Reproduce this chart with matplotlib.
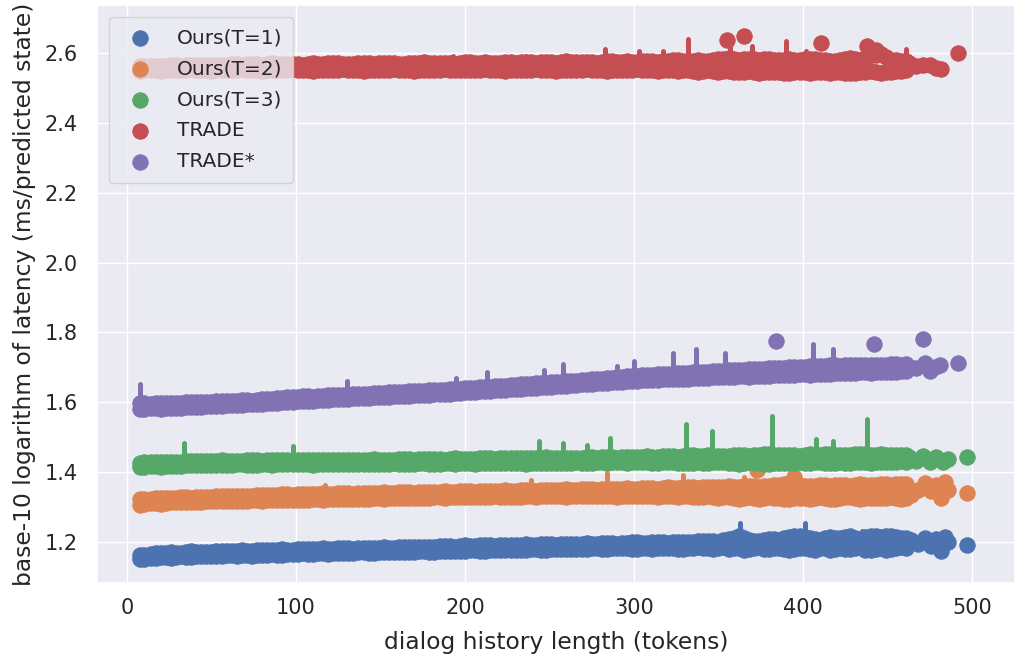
import matplotlib
matplotlib.use("Agg")
import matplotlib.pyplot as plt
import seaborn as sns
import numpy as np

# ---------------- data ----------------
# samples of each band: lower / upper edge values at tokens_a and tokens_b
tokens_a = [8, 14, 20, 26, 32, 38, 44, 50, 56, 62,
            68, 74, 80, 86, 92, 98, 104, 110, 116, 122,
            128, 134, 140, 146, 152, 158, 164, 170, 176, 182,
            188, 194, 200, 206, 212, 218, 224, 230, 236, 242,
            248, 254, 260, 266, 272, 278, 284, 290, 296, 302,
            308, 314, 320, 326, 332, 338, 344, 350, 356, 362,
            368, 374, 380, 386, 392, 398, 404, 410, 416, 422,
            428, 434, 440, 446, 452, 458]
tokens_b = [10, 17, 23, 29, 35, 41, 47, 53, 59, 65,
            71, 77, 83, 89, 95, 101, 107, 113, 119, 125,
            131, 137, 143, 149, 155, 161, 167, 173, 179, 185,
            191, 197, 203, 209, 215, 221, 227, 233, 239, 245,
            251, 257, 263, 269, 275, 281, 287, 293, 299, 305,
            311, 317, 323, 329, 335, 341, 347, 353, 359, 365,
            371, 377, 383, 389, 395, 401, 407, 413, 419, 425,
            431, 437, 443, 449, 455, 461]

# ---- Ours(T=1)
t1_lo_a = [1.150, 1.155, 1.157, 1.155, 1.159, 1.158, 1.160, 1.161, 1.159, 1.162,
           1.163, 1.161, 1.164, 1.165, 1.163, 1.166, 1.167, 1.165, 1.168, 1.167,
           1.169, 1.168, 1.170, 1.169, 1.171, 1.170, 1.172, 1.171, 1.173, 1.172,
           1.174, 1.175, 1.174, 1.176, 1.175, 1.177, 1.176, 1.178, 1.177, 1.179,
           1.178, 1.180, 1.179, 1.181, 1.180, 1.182, 1.181, 1.183, 1.182, 1.181,
           1.183, 1.182, 1.184, 1.181, 1.183, 1.185, 1.182, 1.184, 1.180, 1.183,
           1.179, 1.185, 1.181, 1.183, 1.178, 1.182, 1.180, 1.184, 1.177, 1.183,
           1.179, 1.185, 1.176, 1.183, 1.180, 1.185]
t1_hi_a = [1.163, 1.165, 1.168, 1.170, 1.168, 1.173, 1.170, 1.172, 1.175, 1.173,
           1.176, 1.175, 1.178, 1.176, 1.179, 1.178, 1.181, 1.179, 1.182, 1.180,
           1.183, 1.181, 1.184, 1.182, 1.185, 1.183, 1.186, 1.185, 1.187, 1.186,
           1.189, 1.187, 1.190, 1.188, 1.191, 1.189, 1.192, 1.190, 1.193, 1.191,
           1.194, 1.192, 1.195, 1.193, 1.196, 1.194, 1.197, 1.195, 1.198, 1.199,
           1.197, 1.200, 1.198, 1.201, 1.199, 1.202, 1.204, 1.201, 1.208, 1.218,
           1.205, 1.203, 1.209, 1.206, 1.213, 1.218, 1.210, 1.207, 1.213, 1.211,
           1.216, 1.209, 1.218, 1.215, 1.217, 1.210]
t1_lo_b = [1.152, 1.154, 1.156, 1.158, 1.157, 1.159, 1.161, 1.160, 1.162, 1.161,
           1.162, 1.164, 1.163, 1.164, 1.166, 1.165, 1.166, 1.168, 1.166, 1.169,
           1.168, 1.170, 1.169, 1.171, 1.170, 1.172, 1.171, 1.173, 1.172, 1.174,
           1.173, 1.175, 1.176, 1.175, 1.177, 1.176, 1.178, 1.177, 1.179, 1.178,
           1.180, 1.179, 1.181, 1.180, 1.182, 1.181, 1.183, 1.182, 1.180, 1.183,
           1.181, 1.184, 1.182, 1.180, 1.184, 1.183, 1.181, 1.185, 1.182, 1.178,
           1.183, 1.180, 1.184, 1.179, 1.181, 1.183, 1.178, 1.182, 1.180, 1.179,
           1.184, 1.177, 1.181, 1.178, 1.184, 1.182]
t1_hi_b = [1.164, 1.167, 1.169, 1.169, 1.171, 1.171, 1.172, 1.174, 1.174, 1.175,
           1.175, 1.177, 1.177, 1.178, 1.178, 1.180, 1.180, 1.181, 1.181, 1.182,
           1.182, 1.183, 1.183, 1.184, 1.184, 1.185, 1.185, 1.186, 1.187, 1.188,
           1.188, 1.189, 1.189, 1.190, 1.190, 1.191, 1.191, 1.192, 1.192, 1.193,
           1.193, 1.194, 1.194, 1.195, 1.195, 1.196, 1.196, 1.197, 1.199, 1.198,
           1.199, 1.199, 1.200, 1.200, 1.201, 1.203, 1.202, 1.205, 1.212, 1.210,
           1.204, 1.206, 1.208, 1.210, 1.216, 1.214, 1.208, 1.210, 1.212, 1.214,
           1.212, 1.214, 1.216, 1.216, 1.213, 1.212]
t1_tail_x = [464, 468, 472, 476, 479, 482, 484, 486, 497]
t1_tail_y = [1.205, 1.195, 1.212, 1.188, 1.208, 1.175, 1.215, 1.200, 1.190]
t1_spk_x = [363, 401, 330, 399, 416, 435]
t1_spk_base = [1.200, 1.200, 1.195, 1.200, 1.200, 1.205]
t1_spk_top = [1.255, 1.253, 1.215, 1.225, 1.228, 1.230]

# ---- Ours(T=2)
t2_lo_a = [1.307, 1.312, 1.310, 1.314, 1.313, 1.315, 1.314, 1.317, 1.316, 1.318,
           1.317, 1.319, 1.318, 1.320, 1.319, 1.321, 1.320, 1.322, 1.321, 1.323,
           1.322, 1.324, 1.323, 1.325, 1.324, 1.326, 1.325, 1.327, 1.326, 1.328,
           1.327, 1.329, 1.328, 1.330, 1.329, 1.331, 1.330, 1.329, 1.331, 1.330,
           1.332, 1.331, 1.330, 1.332, 1.331, 1.333, 1.332, 1.330, 1.333, 1.331,
           1.332, 1.330, 1.333, 1.329, 1.332, 1.328, 1.331, 1.327, 1.330, 1.324,
           1.329, 1.323, 1.328, 1.325, 1.322, 1.327, 1.324, 1.328, 1.322, 1.326,
           1.329, 1.323, 1.327, 1.325, 1.330, 1.324]
t2_hi_a = [1.322, 1.324, 1.326, 1.325, 1.328, 1.327, 1.330, 1.329, 1.332, 1.331,
           1.333, 1.332, 1.335, 1.334, 1.336, 1.335, 1.338, 1.336, 1.339, 1.337,
           1.340, 1.338, 1.341, 1.339, 1.342, 1.340, 1.343, 1.341, 1.344, 1.342,
           1.345, 1.343, 1.346, 1.344, 1.347, 1.345, 1.348, 1.346, 1.349, 1.347,
           1.350, 1.348, 1.351, 1.349, 1.352, 1.350, 1.353, 1.351, 1.354, 1.352,
           1.355, 1.353, 1.356, 1.354, 1.357, 1.355, 1.358, 1.356, 1.359, 1.357,
           1.360, 1.358, 1.361, 1.364, 1.370, 1.362, 1.359, 1.363, 1.360, 1.364,
           1.361, 1.365, 1.362, 1.366, 1.363, 1.367]
t2_lo_b = [1.310, 1.311, 1.312, 1.313, 1.315, 1.314, 1.316, 1.317, 1.317, 1.318,
           1.318, 1.319, 1.319, 1.320, 1.320, 1.321, 1.321, 1.322, 1.322, 1.323,
           1.323, 1.324, 1.324, 1.325, 1.325, 1.326, 1.326, 1.327, 1.327, 1.328,
           1.328, 1.329, 1.329, 1.330, 1.330, 1.330, 1.330, 1.330, 1.331, 1.331,
           1.331, 1.331, 1.331, 1.332, 1.332, 1.332, 1.331, 1.332, 1.332, 1.332,
           1.331, 1.332, 1.331, 1.331, 1.330, 1.330, 1.329, 1.329, 1.327, 1.327,
           1.326, 1.326, 1.327, 1.324, 1.325, 1.326, 1.326, 1.325, 1.324, 1.328,
           1.326, 1.325, 1.326, 1.327, 1.327, 1.326]
t2_hi_b = [1.323, 1.325, 1.326, 1.327, 1.328, 1.329, 1.330, 1.331, 1.332, 1.332,
           1.333, 1.334, 1.335, 1.335, 1.336, 1.337, 1.337, 1.338, 1.338, 1.339,
           1.339, 1.340, 1.340, 1.341, 1.341, 1.342, 1.342, 1.343, 1.343, 1.344,
           1.344, 1.345, 1.345, 1.346, 1.346, 1.347, 1.347, 1.348, 1.348, 1.349,
           1.349, 1.350, 1.350, 1.351, 1.351, 1.352, 1.352, 1.353, 1.353, 1.354,
           1.354, 1.355, 1.355, 1.356, 1.356, 1.357, 1.357, 1.358, 1.358, 1.359,
           1.359, 1.360, 1.363, 1.367, 1.366, 1.361, 1.361, 1.362, 1.362, 1.363,
           1.363, 1.364, 1.364, 1.365, 1.365, 1.366]
t2_tail_x = [464, 468, 472, 476, 479, 482, 484, 486, 497, 373, 395]
t2_tail_y = [1.335, 1.350, 1.368, 1.345, 1.362, 1.325, 1.372, 1.350, 1.339, 1.405, 1.385]
t2_spk_x = [117, 239, 284, 329, 365]
t2_spk_base = [1.330, 1.340, 1.345, 1.345, 1.350]
t2_spk_top = [1.362, 1.377, 1.397, 1.391, 1.385]

# ---- Ours(T=3)
t3_lo_a = [1.415, 1.417, 1.416, 1.418, 1.417, 1.420, 1.419, 1.421, 1.420, 1.421,
           1.422, 1.420, 1.422, 1.421, 1.423, 1.422, 1.423, 1.421, 1.423, 1.422,
           1.424, 1.423, 1.422, 1.424, 1.423, 1.425, 1.423, 1.424, 1.425, 1.423,
           1.425, 1.424, 1.426, 1.424, 1.425, 1.427, 1.425, 1.426, 1.424, 1.427,
           1.425, 1.427, 1.426, 1.428, 1.426, 1.428, 1.427, 1.429, 1.427, 1.429,
           1.428, 1.426, 1.429, 1.427, 1.425, 1.428, 1.426, 1.429, 1.427, 1.424,
           1.428, 1.426, 1.422, 1.427, 1.425, 1.428, 1.426, 1.429, 1.425, 1.428,
           1.426, 1.429, 1.427, 1.430, 1.428, 1.431]
t3_hi_a = [1.427, 1.428, 1.429, 1.428, 1.430, 1.433, 1.431, 1.432, 1.434, 1.432,
           1.433, 1.434, 1.433, 1.435, 1.434, 1.436, 1.434, 1.435, 1.434, 1.436,
           1.435, 1.436, 1.435, 1.437, 1.435, 1.436, 1.438, 1.436, 1.437, 1.438,
           1.436, 1.439, 1.437, 1.438, 1.440, 1.438, 1.439, 1.441, 1.439, 1.440,
           1.442, 1.440, 1.441, 1.440, 1.442, 1.441, 1.443, 1.441, 1.444, 1.442,
           1.445, 1.443, 1.446, 1.444, 1.449, 1.446, 1.448, 1.445, 1.447, 1.449,
           1.446, 1.450, 1.452, 1.448, 1.450, 1.447, 1.451, 1.449, 1.452, 1.448,
           1.450, 1.452, 1.449, 1.451, 1.448, 1.450]
t3_lo_b = [1.416, 1.417, 1.417, 1.418, 1.419, 1.420, 1.420, 1.421, 1.421, 1.422,
           1.421, 1.421, 1.422, 1.422, 1.423, 1.423, 1.422, 1.422, 1.423, 1.423,
           1.424, 1.423, 1.423, 1.424, 1.424, 1.424, 1.424, 1.425, 1.424, 1.424,
           1.425, 1.425, 1.425, 1.425, 1.426, 1.426, 1.426, 1.425, 1.426, 1.426,
           1.426, 1.427, 1.427, 1.427, 1.427, 1.428, 1.428, 1.428, 1.428, 1.429,
           1.427, 1.428, 1.428, 1.426, 1.427, 1.427, 1.428, 1.428, 1.426, 1.426,
           1.427, 1.424, 1.425, 1.426, 1.427, 1.427, 1.428, 1.427, 1.427, 1.427,
           1.428, 1.428, 1.429, 1.429, 1.430, 1.430]
t3_hi_b = [1.428, 1.429, 1.429, 1.429, 1.432, 1.432, 1.432, 1.433, 1.433, 1.433,
           1.434, 1.434, 1.434, 1.435, 1.435, 1.435, 1.435, 1.435, 1.435, 1.436,
           1.436, 1.436, 1.436, 1.436, 1.436, 1.437, 1.437, 1.437, 1.438, 1.437,
           1.438, 1.438, 1.438, 1.439, 1.439, 1.439, 1.440, 1.440, 1.440, 1.441,
           1.441, 1.441, 1.441, 1.441, 1.442, 1.442, 1.442, 1.443, 1.443, 1.444,
           1.444, 1.445, 1.445, 1.447, 1.448, 1.447, 1.447, 1.446, 1.448, 1.448,
           1.448, 1.451, 1.450, 1.449, 1.449, 1.449, 1.450, 1.451, 1.450, 1.449,
           1.451, 1.451, 1.450, 1.450, 1.449, 1.449]
t3_tail_x = [463, 467, 471, 475, 479, 483, 486, 497]
t3_tail_y = [1.444, 1.433, 1.447, 1.428, 1.443, 1.430, 1.438, 1.442]
t3_spk_x = [34, 98, 244, 258, 272, 286, 331, 346, 382, 408, 418, 438]
t3_spk_base = [1.430, 1.435, 1.440, 1.440, 1.440, 1.440, 1.445, 1.445, 1.450, 1.450, 1.450, 1.450]
t3_spk_top = [1.484, 1.475, 1.489, 1.482, 1.478, 1.498, 1.538, 1.518, 1.561, 1.495, 1.488, 1.552]

# ---- TRADE
trade_lo_a = [2.548, 2.551, 2.549, 2.552, 2.550, 2.553, 2.551, 2.549, 2.552, 2.550,
              2.553, 2.551, 2.549, 2.552, 2.550, 2.553, 2.551, 2.549, 2.552, 2.550,
              2.553, 2.551, 2.548, 2.552, 2.550, 2.553, 2.551, 2.549, 2.552, 2.550,
              2.553, 2.551, 2.552, 2.550, 2.553, 2.551, 2.549, 2.552, 2.550, 2.553,
              2.551, 2.549, 2.552, 2.550, 2.553, 2.551, 2.549, 2.552, 2.550, 2.553,
              2.551, 2.548, 2.552, 2.549, 2.551, 2.547, 2.550, 2.546, 2.549, 2.545,
              2.548, 2.544, 2.547, 2.545, 2.543, 2.546, 2.544, 2.547, 2.543, 2.546,
              2.542, 2.545, 2.548, 2.544, 2.546, 2.549]
trade_hi_a = [2.562, 2.564, 2.563, 2.565, 2.564, 2.566, 2.565, 2.567, 2.566, 2.568,
              2.567, 2.569, 2.567, 2.570, 2.568, 2.569, 2.567, 2.570, 2.568, 2.571,
              2.569, 2.568, 2.571, 2.569, 2.572, 2.570, 2.568, 2.571, 2.573, 2.570,
              2.572, 2.569, 2.574, 2.571, 2.573, 2.570, 2.574, 2.572, 2.575, 2.571,
              2.574, 2.572, 2.576, 2.573, 2.575, 2.572, 2.577, 2.574, 2.576, 2.573,
              2.578, 2.575, 2.577, 2.580, 2.576, 2.579, 2.577, 2.582, 2.586, 2.581,
              2.584, 2.580, 2.583, 2.579, 2.582, 2.580, 2.584, 2.581, 2.576, 2.580,
              2.586, 2.581, 2.593, 2.596, 2.581, 2.576]
trade_lo_b = [2.550, 2.550, 2.551, 2.551, 2.552, 2.552, 2.550, 2.551, 2.551, 2.552,
              2.552, 2.550, 2.551, 2.551, 2.552, 2.552, 2.550, 2.551, 2.551, 2.552,
              2.552, 2.550, 2.550, 2.551, 2.552, 2.552, 2.550, 2.551, 2.551, 2.552,
              2.552, 2.551, 2.551, 2.552, 2.552, 2.550, 2.551, 2.551, 2.552, 2.552,
              2.550, 2.551, 2.551, 2.552, 2.552, 2.550, 2.551, 2.551, 2.552, 2.552,
              2.550, 2.550, 2.551, 2.550, 2.549, 2.548, 2.548, 2.548, 2.547, 2.546,
              2.546, 2.546, 2.546, 2.544, 2.545, 2.545, 2.546, 2.545, 2.545, 2.544,
              2.544, 2.547, 2.546, 2.545, 2.548, 2.550]
trade_hi_b = [2.563, 2.564, 2.564, 2.565, 2.565, 2.566, 2.566, 2.567, 2.567, 2.568,
              2.568, 2.568, 2.569, 2.569, 2.569, 2.568, 2.569, 2.569, 2.570, 2.570,
              2.569, 2.570, 2.570, 2.571, 2.571, 2.569, 2.570, 2.572, 2.572, 2.571,
              2.571, 2.572, 2.573, 2.572, 2.572, 2.572, 2.573, 2.574, 2.573, 2.573,
              2.573, 2.574, 2.575, 2.574, 2.574, 2.575, 2.576, 2.575, 2.575, 2.576,
              2.577, 2.576, 2.579, 2.578, 2.578, 2.578, 2.580, 2.584, 2.584, 2.583,
              2.582, 2.582, 2.581, 2.581, 2.581, 2.582, 2.583, 2.579, 2.578, 2.583,
              2.584, 2.587, 2.595, 2.589, 2.579, 2.578]
trade_tail_x = [463, 467, 471, 475, 479, 482, 492, 355, 365, 411, 438, 443]
trade_tail_y = [2.572, 2.562, 2.567, 2.565, 2.557, 2.553, 2.601, 2.637, 2.650, 2.630, 2.620, 2.610]
trade_spk_x = [193, 236, 283, 303, 317, 332, 357, 370, 390, 402, 461]
trade_spk_base = [2.565, 2.565, 2.565, 2.565, 2.565, 2.570, 2.570, 2.570, 2.570, 2.570, 2.570]
trade_spk_top = [2.592, 2.592, 2.612, 2.607, 2.607, 2.641, 2.648, 2.621, 2.635, 2.607, 2.612]

# ---- TRADE*
trades_lo_a = [1.580, 1.583, 1.582, 1.584, 1.585, 1.587, 1.586, 1.589, 1.590, 1.592,
               1.593, 1.595, 1.596, 1.598, 1.600, 1.602, 1.603, 1.605, 1.606, 1.608,
               1.609, 1.611, 1.612, 1.614, 1.615, 1.617, 1.618, 1.620, 1.621, 1.623,
               1.624, 1.626, 1.628, 1.630, 1.632, 1.634, 1.636, 1.638, 1.640, 1.642,
               1.644, 1.646, 1.648, 1.650, 1.652, 1.654, 1.656, 1.658, 1.660, 1.662,
               1.663, 1.665, 1.666, 1.668, 1.667, 1.670, 1.669, 1.672, 1.671, 1.674,
               1.673, 1.676, 1.675, 1.678, 1.677, 1.680, 1.679, 1.682, 1.681, 1.684,
               1.683, 1.686, 1.685, 1.688, 1.686, 1.689]
trades_hi_a = [1.598, 1.596, 1.598, 1.597, 1.599, 1.600, 1.602, 1.601, 1.604, 1.603,
               1.606, 1.605, 1.608, 1.610, 1.612, 1.615, 1.617, 1.616, 1.619, 1.621,
               1.620, 1.623, 1.624, 1.626, 1.627, 1.629, 1.630, 1.632, 1.633, 1.635,
               1.636, 1.638, 1.640, 1.642, 1.644, 1.646, 1.648, 1.650, 1.652, 1.654,
               1.656, 1.658, 1.660, 1.662, 1.665, 1.667, 1.669, 1.671, 1.674, 1.676,
               1.678, 1.680, 1.681, 1.683, 1.685, 1.686, 1.688, 1.689, 1.691, 1.692,
               1.694, 1.695, 1.697, 1.698, 1.700, 1.701, 1.703, 1.704, 1.706, 1.705,
               1.707, 1.706, 1.708, 1.707, 1.709, 1.708]
trades_lo_b = [1.582, 1.583, 1.583, 1.585, 1.586, 1.587, 1.588, 1.590, 1.591, 1.593,
               1.594, 1.596, 1.597, 1.599, 1.601, 1.603, 1.604, 1.606, 1.607, 1.609,
               1.610, 1.612, 1.613, 1.615, 1.616, 1.618, 1.619, 1.621, 1.622, 1.624,
               1.625, 1.627, 1.629, 1.631, 1.633, 1.635, 1.637, 1.639, 1.641, 1.643,
               1.645, 1.647, 1.649, 1.651, 1.653, 1.655, 1.657, 1.659, 1.661, 1.663,
               1.664, 1.666, 1.667, 1.668, 1.669, 1.670, 1.671, 1.672, 1.673, 1.674,
               1.675, 1.676, 1.677, 1.678, 1.679, 1.680, 1.681, 1.682, 1.683, 1.684,
               1.685, 1.686, 1.687, 1.687, 1.688, 1.689]
trades_hi_b = [1.597, 1.597, 1.598, 1.598, 1.600, 1.601, 1.602, 1.603, 1.604, 1.605,
               1.606, 1.607, 1.609, 1.611, 1.614, 1.616, 1.617, 1.618, 1.620, 1.621,
               1.622, 1.624, 1.625, 1.627, 1.628, 1.630, 1.631, 1.633, 1.634, 1.636,
               1.637, 1.639, 1.641, 1.643, 1.645, 1.647, 1.649, 1.651, 1.653, 1.655,
               1.657, 1.659, 1.661, 1.664, 1.666, 1.668, 1.670, 1.673, 1.675, 1.677,
               1.679, 1.681, 1.682, 1.684, 1.686, 1.687, 1.689, 1.690, 1.692, 1.693,
               1.695, 1.696, 1.698, 1.699, 1.701, 1.702, 1.704, 1.705, 1.706, 1.706,
               1.707, 1.707, 1.708, 1.708, 1.709, 1.709]
trades_tail_x = [463, 467, 472, 475, 478, 481, 492, 384, 442, 471]
trades_tail_y = [1.702, 1.697, 1.712, 1.690, 1.702, 1.708, 1.713, 1.775, 1.766, 1.781]
trades_spk_x = [8, 130, 195, 213, 247, 258, 290, 300, 323, 337, 354, 406, 418]
trades_spk_base = [1.590, 1.618, 1.634, 1.640, 1.650, 1.655, 1.665, 1.668, 1.675, 1.680, 1.685, 1.695, 1.700]
trades_spk_top = [1.652, 1.661, 1.670, 1.688, 1.692, 1.710, 1.704, 1.718, 1.741, 1.753, 1.741, 1.767, 1.753]

labels = ["Ours(T=1)", "Ours(T=2)", "Ours(T=3)", "TRADE", "TRADE*"]
colors = ["#4C72B0", "#DD8452", "#55A868", "#C44E52", "#8172B3"]

series = [
    (t1_lo_a, t1_hi_a, t1_lo_b, t1_hi_b, t1_tail_x, t1_tail_y, t1_spk_x, t1_spk_base, t1_spk_top),
    (t2_lo_a, t2_hi_a, t2_lo_b, t2_hi_b, t2_tail_x, t2_tail_y, t2_spk_x, t2_spk_base, t2_spk_top),
    (t3_lo_a, t3_hi_a, t3_lo_b, t3_hi_b, t3_tail_x, t3_tail_y, t3_spk_x, t3_spk_base, t3_spk_top),
    (trade_lo_a, trade_hi_a, trade_lo_b, trade_hi_b, trade_tail_x, trade_tail_y,
     trade_spk_x, trade_spk_base, trade_spk_top),
    (trades_lo_a, trades_hi_a, trades_lo_b, trades_hi_b, trades_tail_x, trades_tail_y,
     trades_spk_x, trades_spk_base, trades_spk_top),
]

# ---------------- style ----------------
sns.set_theme(style="darkgrid")
plt.rcParams["font.family"] = ["DejaVu Sans"]

fig = plt.figure(figsize=(10.15, 6.58), dpi=100)
ax = fig.add_axes([97 / 1015, 1 - 583 / 658, 1 - 97 / 1015, (583 - 5) / 658])

z = 2
for (loa, hia, lob, hib, tx, ty, sx, sb, st), lab, col in zip(series, labels, colors):
    xs = list(tokens_a) + list(tokens_a) + list(tokens_b) + list(tokens_b) + list(tx)
    ys = list(loa) + list(hia) + list(lob) + list(hib) + list(ty)
    ax.scatter(xs, ys, s=125, color=col, edgecolors=col, linewidths=0.6,
               label=lab, zorder=z)
    ax.vlines(sx, sb, st, colors=col, linewidth=3.6, capstyle="round", zorder=z)
    z += 1

ax.set_xlim(-17.7, 525.5)
ax.set_ylim(1.0825, 2.7375)
ax.set_xticks([0, 100, 200, 300, 400, 500])
ax.set_yticks([1.2, 1.4, 1.6, 1.8, 2.0, 2.2, 2.4, 2.6])
ax.set_yticklabels(["1.2", "1.4", "1.6", "1.8", "2.0", "2.2", "2.4", "2.6"])
ax.tick_params(axis="both", which="both", length=0, labelsize=15, colors="#262626")
ax.tick_params(axis="y", pad=14)
ax.tick_params(axis="x", pad=11)
ax.set_xlabel("dialog history length (tokens)", fontsize=16.8, color="#262626", labelpad=9)
ax.set_ylabel("base-10 logarithm of latency (ms/predicted state)", fontsize=16.8,
              color="#262626", labelpad=6)

leg = ax.legend(loc="upper left", fontsize=14.5, frameon=True, framealpha=0.8,
                borderaxespad=0.6, borderpad=0.55, labelspacing=0.6,
                handletextpad=0.8)
leg.set_zorder(20)
leg.get_frame().set_edgecolor("0.8")

fig.savefig("out.png", dpi=100)
